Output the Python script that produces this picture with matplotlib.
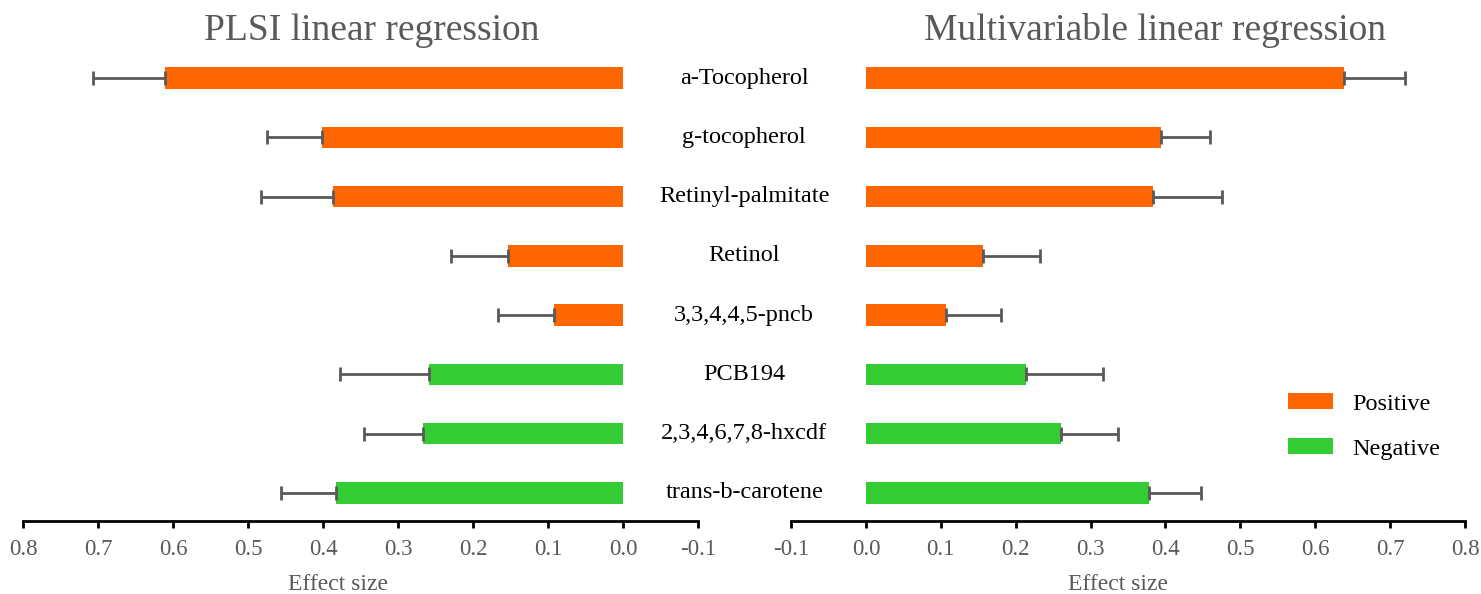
import matplotlib.pyplot as plt
import matplotlib.transforms as mtransforms
from matplotlib.patches import Patch
import numpy as np

plt.rcParams['font.family'] = ['Liberation Serif', 'DejaVu Serif']

compounds = ['a-Tocopherol', 'g-tocopherol', 'Retinyl-palmitate', 'Retinol',
             '3,3,4,4,5-pncb', 'PCB194', '2,3,4,6,7,8-hxcdf', 'trans-b-carotene']
direction = ['Positive', 'Positive', 'Positive', 'Positive',
             'Positive', 'Negative', 'Negative', 'Negative']

plsi_effect = [0.611, 0.401, 0.386, 0.153, 0.092, 0.258, 0.266, 0.382]
plsi_err = [0.095, 0.073, 0.097, 0.076, 0.075, 0.119, 0.079, 0.074]

mlr_effect = [0.639, 0.394, 0.384, 0.157, 0.107, 0.214, 0.261, 0.378]
mlr_err = [0.081, 0.066, 0.091, 0.075, 0.074, 0.103, 0.076, 0.069]

ticks = [-0.1, 0.0, 0.1, 0.2, 0.3, 0.4, 0.5, 0.6, 0.7, 0.8]

colors = {'Positive': '#FF6600', 'Negative': '#33CC33'}
grey = '#595959'

fig = plt.figure(figsize=(14.81, 5.94), dpi=100)
ax_left = fig.add_axes([0.0155, 0.1229, 0.4558, 0.7955])
ax_right = fig.add_axes([0.5341, 0.1229, 0.4551, 0.7955])

y = np.arange(len(compounds))
bar_colors = [colors[d] for d in direction]


def draw_panel(ax, effect, err, xlim, label_x):
    ax.barh(y, effect, height=0.36, color=bar_colors, zorder=2)
    ax.errorbar(effect, y, xerr=[np.zeros(len(err)), err], fmt='none',
                ecolor=grey, elinewidth=2, capsize=5, capthick=2, zorder=3)
    ax.set_xlim(*xlim)
    ax.set_ylim(7.475, -0.5)
    ax.set_yticks([])
    ax.set_xticks(ticks)
    ax.set_xticklabels([f'{t:.1f}' for t in ticks])
    for s in ['top', 'left', 'right']:
        ax.spines[s].set_visible(False)
    ax.spines['bottom'].set_linewidth(2)
    ax.spines['bottom'].set_color('black')
    ax.tick_params(axis='x', direction='out', length=5, width=2, color='black',
                   labelsize=16.5, labelcolor=grey, pad=8)
    ax.set_xlabel('Effect size', fontsize=17, color=grey)
    ax.xaxis.set_label_coords(label_x, -0.112)


draw_panel(ax_left, plsi_effect, plsi_err, (0.8, -0.1), 0.467)
draw_panel(ax_right, mlr_effect, mlr_err, (-0.1, 0.8), 0.485)

trans = mtransforms.blended_transform_factory(fig.transFigure, ax_left.transData)
for i, name in enumerate(compounds):
    fig.text(0.5025, i, name, transform=trans, ha='center', va='center',
             fontsize=17.5, color='black')

fig.text(0.251, 0.949, 'PLSI linear regression', ha='center', va='center',
         fontsize=27, color=grey)
fig.text(0.78, 0.949, 'Multivariable linear regression', ha='center', va='center',
         fontsize=27, color=grey)

handles = [Patch(facecolor=colors['Positive']), Patch(facecolor=colors['Negative'])]
fig.legend(handles, ['Positive', 'Negative'], loc='upper left',
           bbox_to_anchor=(1288 / 1481, 1 - 393 / 594), frameon=False, fontsize=17.5,
           handlelength=1.85, handleheight=0.66, labelspacing=0.95, handletextpad=0.78,
           borderpad=0, borderaxespad=0)

fig.savefig('out.png', dpi=100)
